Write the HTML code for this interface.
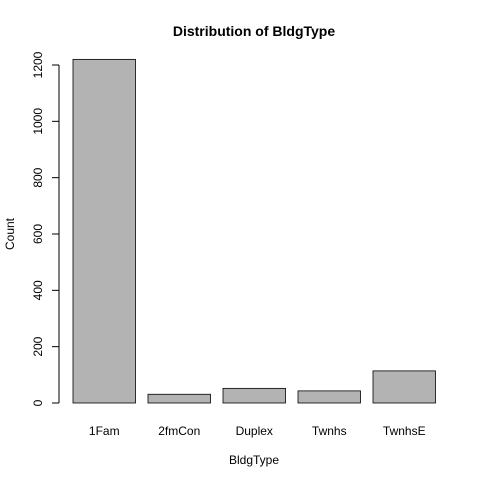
<!DOCTYPE html>
<html><head><meta charset="utf-8"><style>body{margin:0;background:#fff}svg{display:block}text{font-family:"Liberation Sans",Arial,sans-serif;fill:#000}</style></head>
<body>
<svg id="chart" width="480" height="480" viewBox="0 0 480 480">
<text x="254" y="36" text-anchor="middle" font-size="14" font-weight="bold">Distribution of BldgType</text>
<text x="254" y="464" text-anchor="middle" font-size="12">BldgType</text>
<text transform="translate(14,234) rotate(-90)" text-anchor="middle" font-size="12">Count</text>
<g id="bars"></g><g id="yaxis"></g>
</svg>
<script>
const categories=["1Fam","2fmCon","Duplex","Twnhs","TwnhsE"];
const counts=[1220,31,52,43,114];
const yTicks=[0,200,400,600,800,1000,1200];
const ns="http://www.w3.org/2000/svg";
const y0=403,pxPer=(403-65)/1200;
const y=v=>y0-v*pxPer;
const barW=62.5,gap=12.5,left=73;
const bars=document.getElementById('bars');
categories.forEach((c,i)=>{
 const x=left+i*(barW+gap);
 const r=document.createElementNS(ns,'rect');
 
 
 r.setAttribute('x',x);r.setAttribute('y',y(counts[i]));
 r.setAttribute('width',barW);r.setAttribute('height',y0-y(counts[i]));
 r.setAttribute('fill','#b3b3b3');r.setAttribute('stroke','#000');r.setAttribute('stroke-width','0.8');
 bars.appendChild(r);
 const t=document.createElementNS(ns,'text');
 
 
 t.setAttribute('x',x+barW/2);t.setAttribute('y',435);t.setAttribute('text-anchor','middle');t.setAttribute('font-size','12');
 t.textContent=c;bars.appendChild(t);
});
const ya=document.getElementById('yaxis');
const ax=document.createElementNS(ns,'line');


ax.setAttribute('x1',59);ax.setAttribute('x2',59);ax.setAttribute('y1',y(yTicks[0]));ax.setAttribute('y2',y(yTicks[yTicks.length-1]));ax.setAttribute('stroke','#000');
ya.appendChild(ax);
yTicks.forEach(v=>{
 const l=document.createElementNS(ns,'line');
 
 
 l.setAttribute('x1',52);l.setAttribute('x2',59);l.setAttribute('y1',y(v));l.setAttribute('y2',y(v));l.setAttribute('stroke','#000');
 ya.appendChild(l);
 const t=document.createElementNS(ns,'text');
 
 
 t.setAttribute('transform','translate(42,'+y(v)+') rotate(-90)');t.setAttribute('text-anchor','middle');t.setAttribute('font-size','12');
 t.textContent=v;ya.appendChild(t);
});
</script>
</body></html>
